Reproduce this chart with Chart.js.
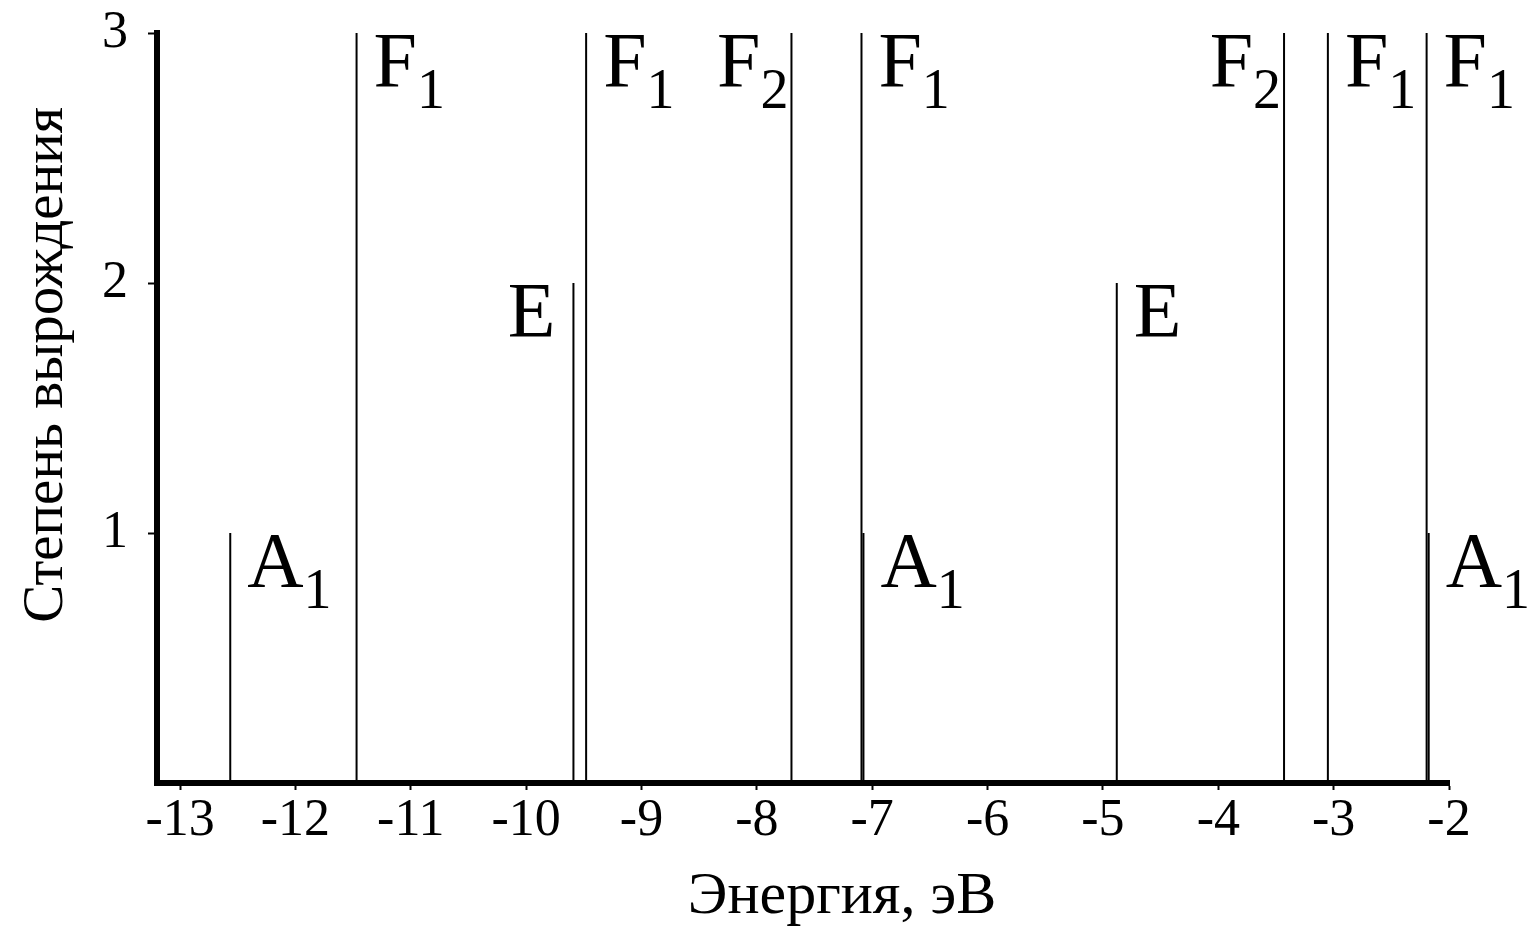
<!DOCTYPE html>
<html>
<head>
<meta charset="utf-8">
<script src="https://cdn.jsdelivr.net/npm/chart.js@4"></script>
<style>
  html, body { margin: 0; padding: 0; background: #fff; }
  canvas { display: block; }
</style>
</head>
<body>
<canvas id="levelChart" width="1540" height="928"></canvas>
<script>
// уровни энергии (эВ), степень вырождения и симметрия
const energies = [-12.565, -11.47, -9.59, -9.48, -7.70, -7.093, -7.076, -4.88, -3.43, -3.05, -2.194, -2.176];
const degeneracy = [1, 3, 2, 3, 3, 3, 1, 2, 3, 3, 3, 1];
const symLetter = ['A', 'F', 'E', 'F', 'F', 'F', 'A', 'E', 'F', 'F', 'F', 'A'];
const symIndex = ['1', '1', '', '1', '2', '1', '1', '', '2', '1', '1', '1'];
const labelSide = ['r', 'r', 'l', 'r', 'l', 'r', 'r', 'r', 'l', 'r', 'r', 'r'];

const xTicks = [-13, -12, -11, -10, -9, -8, -7, -6, -5, -4, -3, -2];
const yTicks = [1, 2, 3];
const xTitle = 'Энергия, эВ';
const yTitle = 'Степень вырождения';

const serif = '"Liberation Serif", "Times New Roman", serif';

const datasets = energies.map((e, i) => ({
  data: [{ x: e, y: 0 }, { x: e, y: degeneracy[i] }],
  showLine: true,
  borderColor: '#000',
  borderWidth: 2,
  pointRadius: 0
}));

// подписи уровней (A1, E, F1, F2) и заголовки осей
const labelsPlugin = {
  id: 'levelLabels',
  afterDraw(chart) {
    const ctx = chart.ctx;
    const xs = chart.scales.x;
    const ys = chart.scales.y;
    ctx.save();
    ctx.fillStyle = '#000';
    ctx.textBaseline = 'alphabetic';
    ctx.textAlign = 'left';
    energies.forEach((e, i) => {
      const px = xs.getPixelForValue(e);
      const top = ys.getPixelForValue(degeneracy[i]);
      ctx.font = '78px ' + serif;
      const mainW = ctx.measureText(symLetter[i]).width;
      ctx.font = '56px ' + serif;
      const subW = symIndex[i] ? ctx.measureText(symIndex[i]).width : 0;
      let x0;
      if (labelSide[i] === 'r') {
        x0 = px + 17;
      } else {
        x0 = px - (symIndex[i] ? 3 : 18) - mainW - subW;
      }
      ctx.font = '78px ' + serif;
      ctx.fillText(symLetter[i], x0, top + 53);
      if (symIndex[i]) {
        ctx.font = '56px ' + serif;
        ctx.fillText(symIndex[i], x0 + mainW, top + 75);
      }
    });

    ctx.font = '60px ' + serif;
    ctx.textAlign = 'center';
    ctx.fillText(xTitle, 842, 913);

    ctx.translate(62, 365);
    ctx.rotate(-Math.PI / 2);
    ctx.font = '57px ' + serif;
    ctx.fillText(yTitle, 0, 0);
    ctx.restore();
  }
};

new Chart(document.getElementById('levelChart'), {
  type: 'scatter',
  data: { datasets: datasets },
  options: {
    responsive: false,
    animation: false,
    layout: { padding: { left: 0, right: 91, top: 33, bottom: 0 } },
    plugins: {
      legend: { display: false },
      tooltip: { enabled: false }
    },
    scales: {
      x: {
        type: 'linear',
        min: -13.2,
        max: -2,
        afterBuildTicks: s => { s.ticks = xTicks.map(v => ({ value: v })); },
        afterFit: s => { s.height = 145; s.paddingLeft = 0; s.paddingRight = 0; },
        grid: { drawOnChartArea: false, tickLength: 7, tickWidth: 2, tickColor: '#000' },
        border: { display: true, color: '#000', width: 6 },
        ticks: {
          color: '#000',
          font: { family: serif, size: 52 },
          padding: 0,
          maxRotation: 0,
          autoSkip: false,
          callback: v => String(v)
        }
      },
      y: {
        type: 'linear',
        min: 0,
        max: 3,
        afterBuildTicks: s => { s.ticks = yTicks.map(v => ({ value: v })); },
        afterFit: s => { s.width = 157; s.paddingTop = 0; s.paddingBottom = 0; },
        grid: { drawOnChartArea: false, tickLength: 9, tickWidth: 2, tickColor: '#000' },
        border: { display: true, color: '#000', width: 6 },
        ticks: {
          color: '#000',
          font: { family: serif, size: 52 },
          padding: 20,
          callback: v => String(v)
        }
      }
    }
  },
  plugins: [labelsPlugin]
});
</script>
</body>
</html>
